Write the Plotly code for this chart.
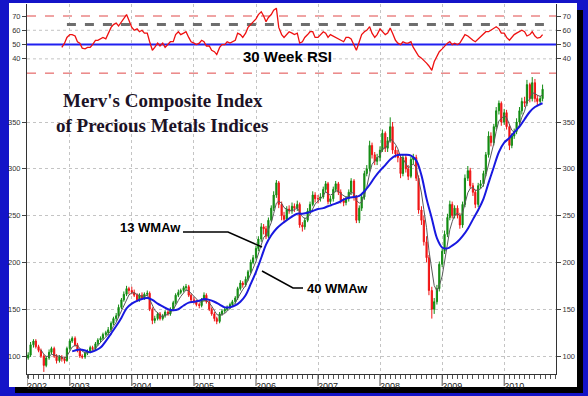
import pandas as pd
import plotly.graph_objects as go

# ---------------- data (semi-monthly candles, May 2002 - Aug 2010) ----------------
dates = pd.date_range('2002-05-01', '2010-08-15', freq='SMS')

opens = [98,101,112,116,110,106,100,90,98,104,108,100,95,99,97,95,
         108,116,119,112,106,100,99,103,105,109,108,113,117,119,123,125,128,135,140,143,152,160,166,172,
         170,168,165,160,165,162,166,167,150,138,140,145,140,143,147,145,150,157,165,168,170,173,174,165,
         160,158,155,154,160,165,158,150,145,140,137,145,148,150,152,155,158,162,172,178,176,182,190,200,
         205,215,225,238,236,228,245,258,272,285,262,250,246,257,255,260,258,262,240,238,245,255,262,272,
         268,268,270,278,284,265,268,278,284,275,266,264,268,275,287,270,245,258,270,295,300,325,315,308,
         312,320,338,322,330,345,320,316,312,295,312,300,292,310,312,290,256,245,222,205,170,150,158,172,
         198,212,230,248,262,250,258,250,240,262,290,298,282,275,262,282,284,295,315,335,328,345,362,370,
         350,360,345,325,335,340,350,362,372,370,390,375,392,375,372,375]
closes = [101,112,116,110,106,100,90,98,104,108,100,95,99,97,95,108,
          116,119,112,106,100,99,103,105,109,108,113,117,119,123,125,128,135,140,143,152,160,166,172,170,
          168,165,160,165,162,166,167,150,138,140,145,140,143,147,145,150,157,165,168,170,173,174,165,160,
          158,155,154,160,165,158,150,145,140,137,145,148,150,152,155,158,162,172,178,176,182,190,200,205,
          215,225,238,236,228,245,258,272,285,262,250,246,257,255,260,258,262,240,238,245,255,262,272,268,
          268,270,278,284,265,268,278,284,275,266,264,268,275,287,270,245,258,270,295,300,325,315,308,312,
          320,338,322,330,345,320,316,312,295,312,300,292,310,312,290,256,245,222,205,170,150,158,172,198,
          212,230,248,262,250,258,250,240,262,290,298,282,275,262,282,284,295,315,335,328,345,362,370,350,
          360,345,325,335,340,350,362,372,370,390,375,392,375,372,375,385]
highs = [104,115,118,118,112,108,102,100,107,110,110,102,101,101,99,110,
         118,121,121,114,108,102,105,107,111,111,115,119,121,125,127,131,137,142,146,155,162,169,175,174,
         174,171,167,167,168,168,170,169,152,143,147,147,145,149,149,152,159,167,171,172,175,177,176,167,
         163,160,157,162,168,167,160,152,147,142,147,150,152,154,157,160,164,174,181,180,185,192,203,208,
         218,228,242,241,239,248,261,276,288,287,265,254,260,261,264,263,266,264,243,248,258,265,276,275,
         272,274,281,287,286,271,281,287,286,278,269,271,278,290,289,272,261,273,298,304,330,328,318,316,
         324,342,340,334,355,350,324,320,315,315,315,304,313,316,315,293,260,250,228,208,174,162,176,201,
         215,234,252,266,265,261,261,253,265,294,303,301,285,278,285,288,298,318,340,339,348,366,373,372,
         364,363,348,338,343,354,366,376,377,395,392,398,396,379,378,390]
lows = [96,99,109,108,104,98,83,88,96,102,98,92,93,94,92,94,
        106,114,110,104,98,97,97,101,103,106,106,111,115,117,121,122,126,133,137,141,150,158,164,166,
        166,163,158,158,160,160,164,148,134,135,138,138,138,141,143,143,148,155,163,166,168,170,163,157,
        156,153,151,152,158,156,148,143,137,134,135,143,146,148,150,153,156,160,170,173,174,180,188,198,
        203,212,222,230,225,226,243,255,269,258,245,242,244,252,252,254,255,237,233,235,243,252,260,264,
        263,265,268,275,262,262,265,275,272,263,260,261,265,272,266,242,242,255,267,292,297,311,304,304,
        308,318,318,318,328,316,312,307,290,292,296,288,290,305,287,252,240,218,200,165,140,145,155,169,
        195,209,227,245,247,247,247,236,237,259,287,279,271,258,259,279,281,292,312,324,325,342,358,346,
        347,342,320,322,332,337,347,358,366,367,371,372,371,368,368,372]

# 13-week weighted moving average, from mid-July 2002
wma13_dates = dates[5:]
wma13 = [106.8,101.8,99.6,99.8,101.7,101.4,100,100,98.9,97.3,99.9,
         104.8,109.6,111.5,111,108.3,105.1,103.5,103.1,104.5,105.7,108.3,111.4,114.2,117.4,120.3,123.3,127.3,131.8,136,141.6,148.1,154.7,161.1,165.3,
         167.4,167.5,165.6,165,163.7,164,164.8,160.7,154,148.8,146.3,143.1,142.1,143.3,144.1,146,149.5,154.6,159.4,163.6,167.6,170.5,169.7,167,
         164.1,160.8,157.9,157.6,159.4,159.2,156.8,153.4,149,144.4,143.2,143.9,145.5,147.8,150.5,153.4,156.5,161.6,167.2,171,175.3,180.7,187.3,193.6,
         201.2,209.9,219.9,226.7,229,234.9,242.6,252.2,263.3,265.6,263.2,258.6,257.1,255.1,255.4,256.2,258.4,253.8,248.8,246.8,248,251.6,257.8,262.3,
         265.6,268,271.4,275.5,273.1,271.9,273.6,276.5,276.2,273.4,271,269.7,270.4,274.7,274,266.3,263.4,264.2,272.1,280.4,295.3,304.7,308.7,311.5,
         314.6,321.7,322.3,325.4,332.1,329.9,326.1,321.4,313,310.9,306.1,301.2,302.8,305.2,301.3,288,274.2,256.4,237.1,212.9,189.6,175.3,169.7,175,
         185.4,200.7,218.2,235,243.5,250.6,252.5,249.7,252.8,263.1,274.5,279,280.3,276.7,277.8,278.5,282.7,292.7,306.8,316.1,327.1,340,351.4,353.5,
         356.9,354.7,346,341.2,339,341.2,346.8,355.1,361.6,371.6,374.8,381.1,380.6,378.6,377.4,378.9]

# 40-week weighted moving average, monthly
wma40_dates = (['2003-01-15'] +
               [d.strftime('%Y-%m-%d') for d in pd.date_range('2003-02-01', '2010-08-01', freq='MS')] +
               ['2010-08-15'])
wma40 = [105,106,107,106,104,106,109,116,124,132,141,151,
         156,159,161,162,160,156,153,150,149,150,154,157,
         158,159,161,160,158,155,152,152,154,158,165,177,
         190,205,219,229,236,241,245,249,252,252,253,255,
         257,258,260,262,264,267,269,270,271,276,283,291,
         298,304,310,314,315,315,314,309,293,268,247,226,
         216,215,218,222,228,236,246,256,268,285,302,318,
         328,333,339,345,353,361,366,369,370]

# 30-week RSI, from mid-Nov 2002
rsi_dates = dates[13:]
rsi = [48,51,55,
       57,57,56,52,51,47.5,47,48,48,50,53,53,54,55,54,58,62,64,65,63,66,68,71,67,
       62,60,61,59,60,58,58,52,46,48,51,49,51,48,50,52,52,57,59,57,58,59,55,52,
       51,50,51,53,52,49,49,46,45,43,48,50,50,52,51,52,53,58,57,55,58,62,64,66,
       68,71,73,70,66,69,71,74,75.5,62,57,55,57,59,58,57,58,51,52,55,57,59,59,55,
       55,57,59,58,55,57,56,55,54,53,52,55,55,54,50,46,52,57,59,60,62.5,58,55,57,
       61,59,57,58,61.5,58,53,51,50,52,51,51,52,48,45,42,40.5,39,37,35,32,38,42,45,
       47,49,51,52,50,51,50,51,54,57,56,54.5,53,52,54,55,57,59,59,60,61,62.5,61,58,
       58,55,53,55,57,58,59,60,59,56,57,59,56,54.5,55,57]

price_ticks = [100, 150, 200, 250, 300, 350]
rsi_ticks = [40, 50, 60, 70]
rsi_grid = [40, 60]
rsi_levels = {'upper': 70, 'lower': 30, 'mid': 50, 'signal': 64}
signal_span = ['2002-12-15', '2010-09-30']
years = [2002, 2003, 2004, 2005, 2006, 2007, 2008, 2009, 2010]
x_range = ['2002-04-24', '2010-11-02']
year_tickvals = [x_range[0]] + [f'{y}-01-01' for y in years[1:]]
year_ticktext = [str(y) for y in years]

# ---------------- layout helpers ----------------
W, H = 588, 396
ML, MR, MT, MB = 27, 32, 4, 22
PW, PH = W - ML - MR, H - MT - MB
PAGE_BLUE = '#1414c8'


def fx(px):
    return (px - ML) / PW


def fy(py):
    return (H - MB - py) / PH


split = fy(74)
main_range = [80.8, 401.3]
rsi_range = [29.4, 78.4]

GREEN = '#138c13'
RED = '#f01515'
TICKFONT = dict(family='Liberation Sans', size=7.5, color='#333333')
GRID = '#c4c4c4'

fig = go.Figure()
fig.add_trace(go.Candlestick(
    x=dates, open=opens, high=highs, low=lows, close=closes,
    increasing=dict(line=dict(color=GREEN, width=1), fillcolor=GREEN),
    decreasing=dict(line=dict(color=RED, width=1), fillcolor=RED),
    whiskerwidth=0, xaxis='x', yaxis='y', showlegend=False, hoverinfo='skip'))
fig.add_trace(go.Scatter(x=wma13_dates, y=wma13, mode='lines',
                         line=dict(color='#5a5a5a', width=1), xaxis='x', yaxis='y',
                         showlegend=False, hoverinfo='skip'))
fig.add_trace(go.Scatter(x=wma40_dates, y=wma40, mode='lines',
                         line=dict(color='#1818e0', width=2, shape='spline'),
                         xaxis='x', yaxis='y3', showlegend=False, hoverinfo='skip'))
fig.add_trace(go.Scatter(x=rsi_dates, y=rsi, mode='lines',
                         line=dict(color='#ee1111', width=1.3), xaxis='x', yaxis='y4',
                         showlegend=False, hoverinfo='skip'))

shapes = []
# frame: blue page, black shadow, white card
shapes.append(dict(type='rect', xref='paper', yref='paper', x0=fx(15), x1=fx(583),
                   y0=fy(393), y1=fy(10), fillcolor='black', line=dict(width=0), layer='below'))
shapes.append(dict(type='rect', xref='paper', yref='paper', x0=fx(9), x1=fx(577),
                   y0=fy(387), y1=fy(3), fillcolor='white', line=dict(width=0), layer='below'))
# RSI dotted grid
for g in rsi_grid:
    shapes.append(dict(type='line', xref='paper', yref='y2', x0=0, x1=1, y0=g, y1=g,
                       line=dict(color=GRID, width=1, dash='dot'), layer='between'))
# RSI reference lines
for key in ('upper', 'lower'):
    shapes.append(dict(type='line', xref='paper', yref='y2', x0=0, x1=1,
                       y0=rsi_levels[key], y1=rsi_levels[key],
                       line=dict(color='#e04848', width=1, dash='dash'), layer='between'))
shapes.append(dict(type='line', xref='x', yref='y2', x0=signal_span[0], x1=signal_span[1],
                   y0=rsi_levels['signal'], y1=rsi_levels['signal'],
                   line=dict(color='#6e6e6e', width=3, dash='dash'), layer='between'))
shapes.append(dict(type='line', xref='paper', yref='y2', x0=0, x1=1,
                   y0=rsi_levels['mid'], y1=rsi_levels['mid'],
                   line=dict(color='#2020f0', width=2), layer='between'))
# tall year ticks beside the labels
for tv in year_tickvals:
    shapes.append(dict(type='line', xref='x', yref='paper', x0=tv, x1=tv, y0=0, y1=fy(386),
                       line=dict(color='#555555', width=1)))
# callout lines
shapes.append(dict(type='path', xref='paper', yref='paper',
                   path=f'M {fx(183)},{fy(232)} L {fx(228)},{fy(232)} L {fx(262)},{fy(247)}',
                   line=dict(color='black', width=1.5)))
shapes.append(dict(type='path', xref='paper', yref='paper',
                   path=f'M {fx(262)},{fy(271)} L {fx(293)},{fy(288)} L {fx(303)},{fy(288)}',
                   line=dict(color='black', width=1.5)))

annotations = [
    dict(text="<b>Merv's Composite Index</b>", x=fx(163), y=fy(100),
         font=dict(family='Liberation Serif', size=19, color='#1c1226')),
    dict(text="<b>of Precious Metals Indices</b>", x=fx(162), y=fy(125),
         font=dict(family='Liberation Serif', size=19, color='#1c1226')),
    dict(text='<b>30 Week RSI</b>', x=fx(287), y=fy(57),
         font=dict(family='Liberation Sans', size=15, color='black')),
    dict(text='<b>13 WMAw</b>', x=fx(150), y=fy(227),
         font=dict(family='Liberation Sans', size=13, color='black')),
    dict(text='<b>40 WMAw</b>', x=fx(337), y=fy(288),
         font=dict(family='Liberation Sans', size=13, color='black')),
]
for a in annotations:
    a.update(xref='paper', yref='paper', showarrow=False, xanchor='center', yanchor='middle')

yaxis_common = dict(showline=True, linecolor='#333333', linewidth=1, ticks='outside',
                    ticklen=4, tickcolor='#444444', tickfont=TICKFONT, zeroline=False)

fig.update_layout(
    width=W, height=H,
    margin=dict(l=ML, r=MR, t=MT, b=MB, autoexpand=False),
    paper_bgcolor=PAGE_BLUE, plot_bgcolor='white',
    shapes=shapes, annotations=annotations,
    xaxis=dict(range=x_range, type='date', anchor='y',
               tickvals=year_tickvals, ticktext=year_ticktext,
               ticks='outside', ticklen=3, tickcolor='#555555',
               tickfont=dict(family='Liberation Sans', size=9, color='#222222'),
               ticklabelshift=10, ticklabelstandoff=0,
               showline=True, linecolor='#333333', linewidth=1,
               showgrid=True, gridcolor=GRID, griddash='dot', gridwidth=1,
               minor=dict(dtick='M1', tick0='2002-01-01', ticks='outside', ticklen=4,
                          tickcolor='#555555', showgrid=False),
               rangeslider=dict(visible=False), zeroline=False),
    yaxis=dict(domain=[0, split], range=main_range, tickvals=price_ticks,
               showgrid=True, gridcolor=GRID, griddash='dot', **yaxis_common),
    yaxis3=dict(overlaying='y', side='right', range=main_range, tickvals=price_ticks,
                showgrid=False, anchor='x', **yaxis_common),
    yaxis2=dict(domain=[split, 1], range=rsi_range, tickvals=rsi_ticks, anchor='x',
                showgrid=False, **yaxis_common),
    yaxis4=dict(overlaying='y2', side='right', range=rsi_range, tickvals=rsi_ticks,
                showgrid=False, anchor='x', **yaxis_common),
)

fig.write_html('out.html',
               config={'displayModeBar': False, 'staticPlot': True},
               post_script=("document.body.style.margin='0';"
                            f"document.body.style.background='{PAGE_BLUE}';"))
